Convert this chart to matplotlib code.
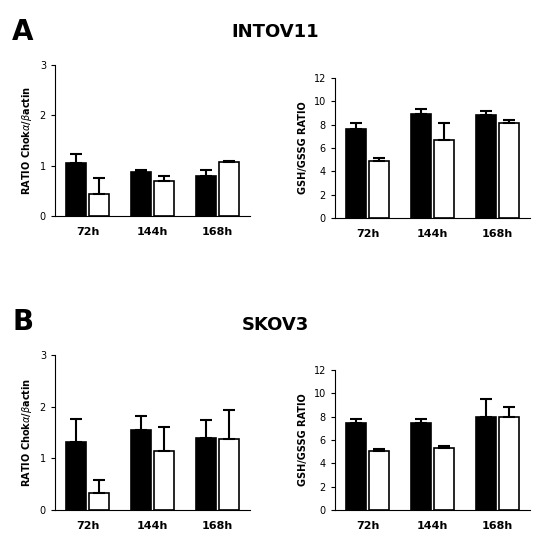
import matplotlib
matplotlib.use('Agg')
import matplotlib.pyplot as plt
import numpy as np

times = ['72h', '144h', '168h']

a_chok_black = [1.05, 0.88, 0.80]
a_chok_black_err = [0.18, 0.03, 0.12]
a_chok_white = [0.43, 0.70, 1.07]
a_chok_white_err = [0.32, 0.10, 0.03]

a_gsh_black = [7.6, 8.9, 8.8]
a_gsh_black_err = [0.5, 0.4, 0.4]
a_gsh_white = [4.9, 6.7, 8.1]
a_gsh_white_err = [0.2, 1.4, 0.3]

b_chok_black = [1.32, 1.55, 1.40]
b_chok_black_err = [0.45, 0.27, 0.35]
b_chok_white = [0.32, 1.15, 1.37]
b_chok_white_err = [0.27, 0.45, 0.57]

b_gsh_black = [7.5, 7.5, 8.0]
b_gsh_black_err = [0.3, 0.3, 1.5]
b_gsh_white = [5.1, 5.3, 8.0]
b_gsh_white_err = [0.1, 0.15, 0.8]

W, H = 550, 557
fig = plt.figure(figsize=(W / 100, H / 100), dpi=100)


def panel(rect, black, berr, white, werr, ylim, yticks, ylabel):
    l, t, r, b = rect
    ax = fig.add_axes([l / W, 1 - b / H, (r - l) / W, (b - t) / H])
    x = np.arange(len(times))
    w = 0.3
    ekw = dict(ecolor='black', elinewidth=1.5, capsize=4, capthick=1.5)
    ax.bar(x - 0.18, black, w, color='black', edgecolor='black', linewidth=1.2,
           yerr=[np.zeros(3), berr], error_kw=ekw)
    ax.bar(x + 0.18, white, w, color='white', edgecolor='black', linewidth=1.2,
           yerr=[np.zeros(3), werr], error_kw=ekw)
    ax.set_xlim(-0.5, 2.5)
    ax.set_ylim(*ylim)
    ax.set_yticks(yticks)
    ax.set_xticks(x)
    ax.set_xticklabels(times, fontweight='bold', fontsize=8)
    ax.tick_params(axis='x', length=0, pad=8)
    ax.tick_params(axis='y', labelsize=7, length=3)
    ax.spines['top'].set_visible(False)
    ax.spines['right'].set_visible(False)
    ax.set_ylabel(ylabel, fontweight='bold', fontsize=7)
    return ax


chok_label = r'RATIO Chok$\alpha$/$\beta$actin'
panel((55, 65, 250, 216), a_chok_black, a_chok_black_err, a_chok_white, a_chok_white_err,
      (0, 3), [0, 1, 2, 3], chok_label)
panel((335, 78, 530, 218), a_gsh_black, a_gsh_black_err, a_gsh_white, a_gsh_white_err,
      (0, 12), range(0, 13, 2), 'GSH/GSSG RATIO')
panel((55, 355, 250, 510), b_chok_black, b_chok_black_err, b_chok_white, b_chok_white_err,
      (0, 3), [0, 1, 2, 3], chok_label)
panel((335, 370, 530, 510), b_gsh_black, b_gsh_black_err, b_gsh_white, b_gsh_white_err,
      (0, 12), range(0, 13, 2), 'GSH/GSSG RATIO')

fig.text(12 / W, 1 - 32 / H, 'A', fontsize=20, fontweight='bold', va='center')
fig.text(275 / W, 1 - 32 / H, 'INTOV11', fontsize=13, fontweight='bold', va='center', ha='center')
fig.text(12 / W, 1 - 322 / H, 'B', fontsize=20, fontweight='bold', va='center')
fig.text(275 / W, 1 - 325 / H, 'SKOV3', fontsize=13, fontweight='bold', va='center', ha='center')

fig.savefig('out.png', dpi=100)
